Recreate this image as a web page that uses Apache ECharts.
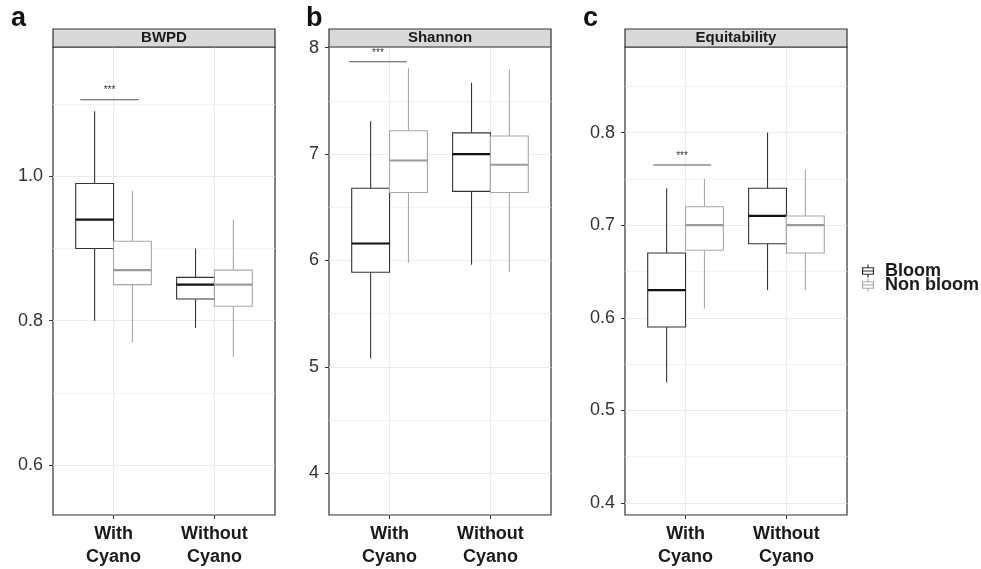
<!DOCTYPE html>
<html><head><meta charset="utf-8">
<script src="https://cdn.jsdelivr.net/npm/echarts@6/dist/echarts.min.js"></script>
<style>html,body{margin:0;padding:0;background:#fff}#c{width:981px;height:569px}</style>
</head><body><div id="c"></div>
<script>
// ---------- data ----------
const categories = ['With\nCyano', 'Without\nCyano'];
const groups = ['Bloom', 'Non bloom'];
const panelLetters = ['a', 'b', 'c'];
const panelTitles = ['BWPD', 'Shannon', 'Equitability'];
// each row: [whisker low, Q1, median, Q3, whisker high], one row per category
const bwpdBloom = [[0.80, 0.90, 0.94, 0.99, 1.09], [0.79, 0.83, 0.85, 0.86, 0.90]];
const bwpdNonBloom = [[0.77, 0.85, 0.87, 0.91, 0.98], [0.75, 0.82, 0.85, 0.87, 0.94]];
const shannonBloom = [[5.08, 5.89, 6.16, 6.68, 7.31], [5.96, 6.65, 7.00, 7.20, 7.67]];
const shannonNonBloom = [[5.98, 6.64, 6.94, 7.22, 7.81], [5.89, 6.64, 6.90, 7.17, 7.80]];
const equitBloom = [[0.53, 0.59, 0.63, 0.67, 0.74], [0.63, 0.68, 0.71, 0.74, 0.80]];
const equitNonBloom = [[0.61, 0.673, 0.70, 0.72, 0.75], [0.63, 0.67, 0.70, 0.71, 0.76]];
const yRanges = [[0.531, 1.179], [3.608, 8.007], [0.387, 0.8925]];
const yIntervals = [0.2, 1, 0.1];
const yTicksBWPD = [0.6, 0.8, 1.0];
const yTicksShannon = [4, 5, 6, 7, 8];
const yTicksEquit = [0.4, 0.5, 0.6, 0.7, 0.8];
const yDecimals = [1, 0, 1];
// significance bars: [x start, x end, y]
const sigBWPD = [0.67, 1.25, 1.106];
const sigShannon = [0.60, 1.17, 7.868];
const sigEquit = [0.678, 1.253, 0.765];
const sigLabel = '***';

// ---------- layout / style ----------
const FONT = '"Liberation Sans", Arial, Helvetica, sans-serif';
const GRID_LEFTS = [53, 329, 625];
const GRID_TOP = 47, GRID_W = 222, GRID_H = 468;
const LETTER_X = [11, 306, 583];
const BOX_HALF = 0.1875;
const COL_BLOOM = '#333333', COL_BLOOM_MED = '#111111';
const COL_NON = '#a8a8a8', COL_NON_MED = '#9a9a9a';

const bloomData = [bwpdBloom, shannonBloom, equitBloom];
const nonData = [bwpdNonBloom, shannonNonBloom, equitNonBloom];
const sigData = [sigBWPD, sigShannon, sigEquit];
const yTicks = [yTicksBWPD, yTicksShannon, yTicksEquit];

function boxRender(offset, stroke, medColor) {
  return function (params, api) {
    const x = api.value(0) + offset;
    const pLo = api.coord([x, api.value(1)]);
    const pQ1 = api.coord([x, api.value(2)]);
    const pMed = api.coord([x, api.value(3)]);
    const pQ3 = api.coord([x, api.value(4)]);
    const pHi = api.coord([x, api.value(5)]);
    const hw = api.size([BOX_HALF, 0])[0];
    const cx = pMed[0];
    return {
      type: 'group',
      children: [
        { type: 'line', shape: { x1: cx, y1: pHi[1], x2: cx, y2: pQ3[1] }, style: { stroke: stroke, lineWidth: 1.1 } },
        { type: 'line', shape: { x1: cx, y1: pQ1[1], x2: cx, y2: pLo[1] }, style: { stroke: stroke, lineWidth: 1.1 } },
        { type: 'rect', shape: { x: cx - hw, y: pQ3[1], width: 2 * hw, height: pQ1[1] - pQ3[1] }, style: { fill: '#fff', stroke: stroke, lineWidth: 1.1 } },
        { type: 'line', shape: { x1: cx - hw, y1: pMed[1], x2: cx + hw, y2: pMed[1] }, style: { stroke: medColor, lineWidth: 2.2 } }
      ]
    };
  };
}

function sigRender(params, api) {
  const p0 = api.coord([api.value(0), api.value(2)]);
  const p1 = api.coord([api.value(1), api.value(2)]);
  return {
    type: 'group',
    children: [
      { type: 'line', shape: { x1: p0[0], y1: p0[1], x2: p1[0], y2: p1[1] }, style: { stroke: '#555', lineWidth: 1.1 } },
      { type: 'text', x: (p0[0] + p1[0]) / 2, y: p0[1] - 9, style: { text: sigLabel, fill: '#333', font: '10px ' + FONT, align: 'center', verticalAlign: 'middle' } }
    ]
  };
}

const grids = [], xAxes = [], yAxes = [], series = [], graphics = [];
for (let i = 0; i < 3; i++) {
  grids.push({ left: GRID_LEFTS[i], top: GRID_TOP, width: GRID_W, height: GRID_H, show: true, borderColor: '#333', borderWidth: 1.2, backgroundColor: '#fff' });
  xAxes.push({
    gridIndex: i, type: 'value', min: 0.4, max: 2.6,
    axisLine: { show: false },
    axisTick: { show: true, customValues: [1, 2], length: 4, lineStyle: { color: '#333' } },
    axisLabel: { customValues: [1, 2], formatter: v => categories[Math.round(v) - 1], fontFamily: FONT, fontSize: 18, fontWeight: 'bold', color: '#1a1a1a', lineHeight: 23, margin: 8 },
    splitLine: { show: true, lineStyle: { color: '#ebebeb', width: 1 } }
  });
  const iv = yIntervals[i], dec = yDecimals[i];
  yAxes.push({
    gridIndex: i, type: 'value', min: yRanges[i][0], max: yRanges[i][1],
    minInterval: iv, maxInterval: iv, splitNumber: 3,
    axisLine: { show: false },
    axisTick: { show: true, customValues: yTicks[i], length: 4, lineStyle: { color: '#333' } },
    axisLabel: {
      customValues: yTicks[i],
      formatter: v => v.toFixed(dec),
      fontFamily: FONT, fontSize: 18, color: '#333', margin: 10
    },
    splitLine: { show: true, lineStyle: { color: '#ebebeb', width: 1 } },
    minorTick: { show: false, splitNumber: 2 },
    minorSplitLine: { show: true, lineStyle: { color: '#f2f2f2', width: 1 } }
  });
  series.push({
    type: 'custom', name: groups[0], xAxisIndex: i, yAxisIndex: i, z: 3,
    itemStyle: { color: COL_BLOOM },
    data: bloomData[i].map((v, k) => [k + 1].concat(v)),
    encode: { x: 0, y: [1, 2, 3, 4, 5] },
    renderItem: boxRender(-BOX_HALF, COL_BLOOM, COL_BLOOM_MED)
  });
  series.push({
    type: 'custom', name: groups[1], xAxisIndex: i, yAxisIndex: i, z: 3,
    itemStyle: { color: COL_NON },
    data: nonData[i].map((v, k) => [k + 1].concat(v)),
    encode: { x: 0, y: [1, 2, 3, 4, 5] },
    renderItem: boxRender(BOX_HALF, COL_NON, COL_NON_MED)
  });
  series.push({
    type: 'custom', name: 'sig' + i, xAxisIndex: i, yAxisIndex: i, z: 4, silent: true,
    data: [sigData[i]],
    encode: { x: [0, 1], y: 2 },
    renderItem: sigRender
  });
  graphics.push({ type: 'rect', z: 10, shape: { x: GRID_LEFTS[i], y: 29, width: GRID_W, height: 18 }, style: { fill: '#d9d9d9', stroke: '#333', lineWidth: 1.2 } });
  graphics.push({ type: 'text', z: 11, x: GRID_LEFTS[i] + GRID_W / 2, y: 37.5, style: { text: panelTitles[i], font: 'bold 15px ' + FONT, fill: '#1a1a1a', align: 'center', verticalAlign: 'middle' } });
  graphics.push({ type: 'text', z: 11, x: LETTER_X[i], y: 19, style: { text: panelLetters[i], font: 'bold 27px ' + FONT, fill: '#111', align: 'left', verticalAlign: 'middle' } });
}

const ICON = 'path://M5,0L5,3M0,3L10,3L10,9L0,9ZM0,6L10,6M5,9L5,12';
function legendFor(k, top, col) {
  return {
    orient: 'vertical', left: 862, top: top, padding: 0,
    itemWidth: 12, itemHeight: 13, itemGap: 0,
    textStyle: { fontFamily: FONT, fontSize: 18, fontWeight: 'bold', color: '#1a1a1a', padding: [0, 0, 0, 6] },
    data: [{ name: groups[k], icon: ICON, itemStyle: { color: '#fff', borderColor: col, borderWidth: 1.2 } }]
  };
}
const option = {
  animation: false,
  backgroundColor: '#fff',
  grid: grids, xAxis: xAxes, yAxis: yAxes, series: series, graphic: graphics,
  legend: [legendFor(0, 262, COL_BLOOM), legendFor(1, 276, COL_NON)]
};
const chart = echarts.init(document.getElementById('c'), null, { renderer: 'canvas' });
chart.setOption(option);
</script></body></html>
